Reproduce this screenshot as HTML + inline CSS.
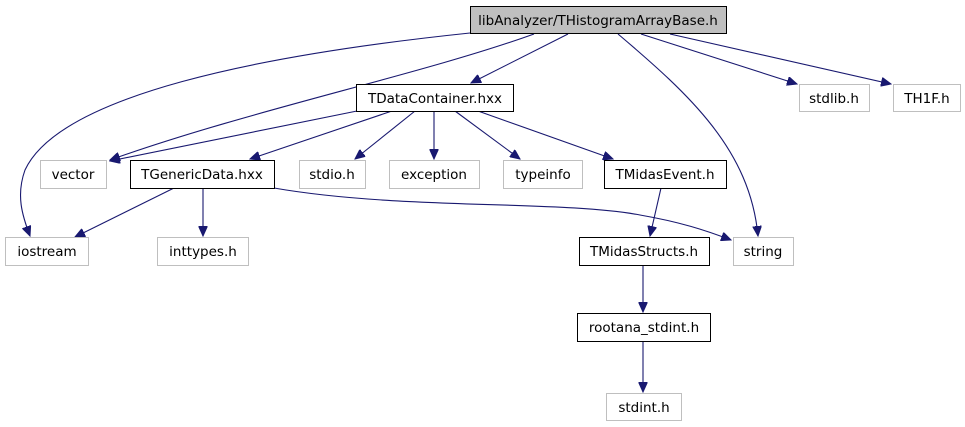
<!DOCTYPE html>
<html><head><meta charset="utf-8"><style>
html,body{margin:0;padding:0;background:#fff;}
svg{display:block;}
text{font-family:"DejaVu Sans","Liberation Sans",sans-serif;font-size:13.5px;fill:#000;}
</style></head><body>
<svg width="965" height="427" viewBox="0 0 965 427" xmlns="http://www.w3.org/2000/svg">
<defs>
<marker id="a" markerWidth="11" markerHeight="9" refX="10" refY="4.5" orient="auto" markerUnits="userSpaceOnUse">
<path d="M0,0 L10,4.5 L0,9 Z" fill="#191970" stroke="#191970"/>
</marker>
</defs>
<g fill="none" stroke="#191970" stroke-width="1.1" marker-end="url(#a)">
<path d="M470,33 C260,55 60,95 25,170 C16,195 22,215 30,236"/>
<path d="M534,34 C420,75 250,110 110,160"/>
<path d="M568,34 L471,83"/>
<path d="M618,34 C690,95 750,150 758,236"/>
<path d="M641,34 L797,84"/>
<path d="M670,34 L891,84"/>
<path d="M357,111 L110,161"/>
<path d="M392,111 L250,159"/>
<path d="M415,111 L355,159"/>
<path d="M434,111 L434,159"/>
<path d="M455,111 L520,159"/>
<path d="M478,111 L613,159"/>
<path d="M174,188 L75,237"/>
<path d="M203,188 L203,236"/>
<path d="M274,188 C400,210 560,200 640,215 C680,222 705,230 731,240"/>
<path d="M661,188 L650,236"/>
<path d="M643,266 L643,312"/>
<path d="M643,341 L643,392"/>
</g>
<g stroke-width="1">
<rect x="470.5" y="6.5" width="256" height="27" fill="#bfbfbf" stroke="#000"/>
<rect x="356.5" y="84.5" width="157" height="27" fill="#fff" stroke="#000"/>
<rect x="799.5" y="84.5" width="70" height="27" fill="#fff" stroke="#bfbfbf"/>
<rect x="893.5" y="84.5" width="67" height="27" fill="#fff" stroke="#bfbfbf"/>
<rect x="40.5" y="160.5" width="66" height="28" fill="#fff" stroke="#bfbfbf"/>
<rect x="130.5" y="160.5" width="144" height="28" fill="#fff" stroke="#000"/>
<rect x="299.5" y="160.5" width="66" height="28" fill="#fff" stroke="#bfbfbf"/>
<rect x="389.5" y="160.5" width="90" height="28" fill="#fff" stroke="#bfbfbf"/>
<rect x="503.5" y="160.5" width="79" height="28" fill="#fff" stroke="#bfbfbf"/>
<rect x="604.5" y="160.5" width="122" height="28" fill="#fff" stroke="#000"/>
<rect x="5.5" y="237.5" width="83" height="28" fill="#fff" stroke="#bfbfbf"/>
<rect x="157.5" y="237.5" width="91" height="28" fill="#fff" stroke="#bfbfbf"/>
<rect x="579.5" y="237.5" width="130" height="28" fill="#fff" stroke="#000"/>
<rect x="733.5" y="237.5" width="60" height="28" fill="#fff" stroke="#bfbfbf"/>
<rect x="577.5" y="313.5" width="133" height="28" fill="#fff" stroke="#000"/>
<rect x="606.5" y="393.5" width="75" height="27" fill="#fff" stroke="#bfbfbf"/>
</g>
<g text-anchor="middle">
<text x="598" y="25">libAnalyzer/THistogramArrayBase.h</text>
<text x="435" y="103">TDataContainer.hxx</text>
<text x="834" y="103">stdlib.h</text>
<text x="927" y="103">TH1F.h</text>
<text x="73" y="179">vector</text>
<text x="202" y="179">TGenericData.hxx</text>
<text x="332" y="179">stdio.h</text>
<text x="434" y="179">exception</text>
<text x="543" y="179">typeinfo</text>
<text x="665" y="179">TMidasEvent.h</text>
<text x="47" y="256">iostream</text>
<text x="203" y="256">inttypes.h</text>
<text x="644" y="256">TMidasStructs.h</text>
<text x="763" y="256">string</text>
<text x="644" y="332">rootana_stdint.h</text>
<text x="644" y="412">stdint.h</text>
</g>
</svg>
</body></html>
